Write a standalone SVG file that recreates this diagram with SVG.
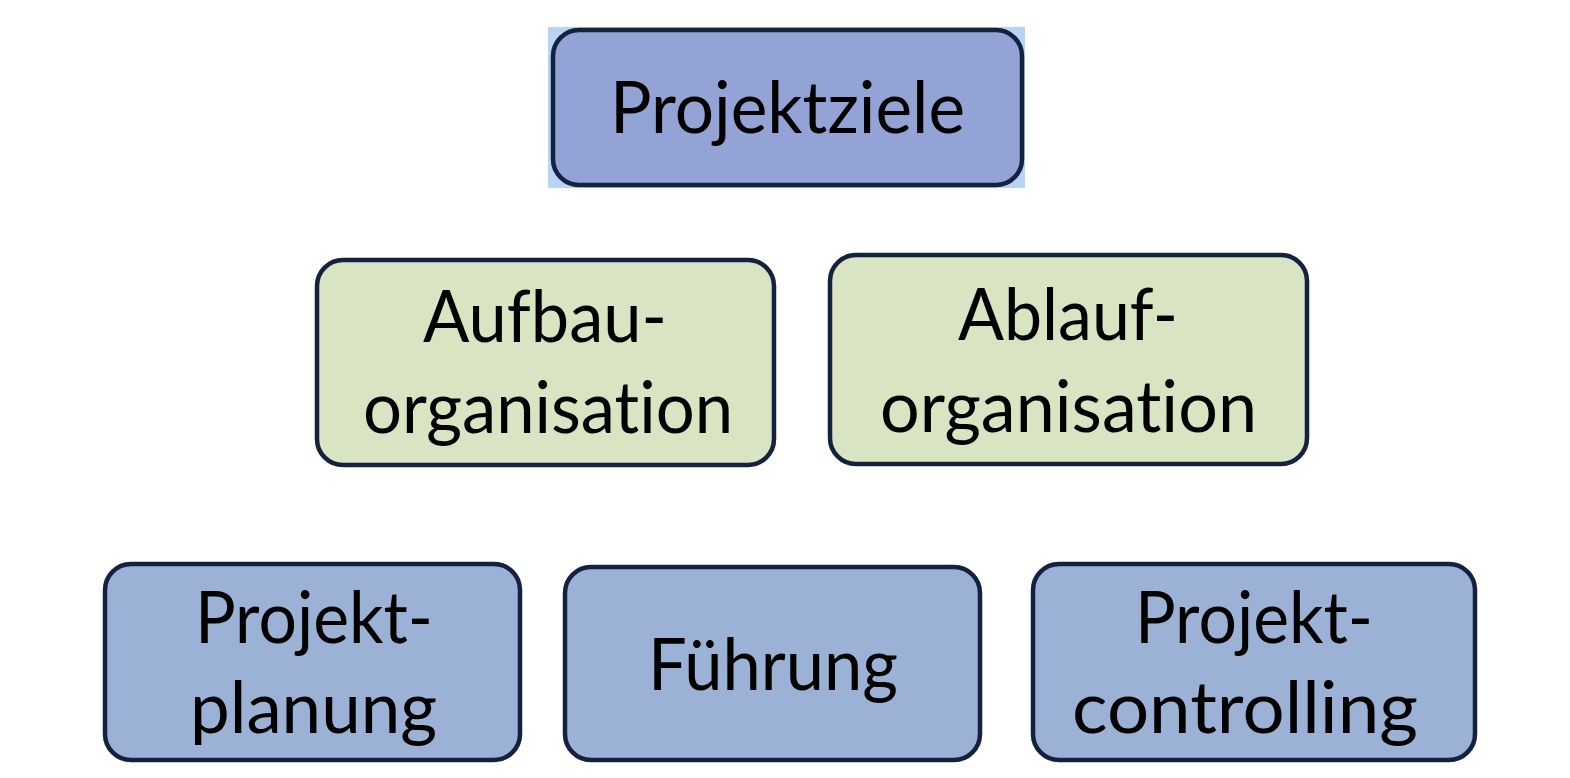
<svg xmlns="http://www.w3.org/2000/svg" width="1570" height="778" viewBox="0 0 1570 778">
<style>
.box{stroke:#15223f;stroke-width:4.5}
.top{fill:#94a3d6}
.green{fill:#d9e4c3}
.blue{fill:#9bb2d6}
text{font-family:Lato,"Open Sans","Noto Sans",sans-serif;font-size:71px;fill:#000;text-anchor:start;font-variant-ligatures:none;font-feature-settings:"liga" 0,"clig" 0,"dlig" 0}
</style>
<rect width="1570" height="778" fill="#ffffff"/>
<g id="connectors"></g>
<g id="projektziele">
<rect x="548" y="27" width="477" height="161" fill="#b7d3f6"/>
<rect class="box top" x="553" y="30" width="469" height="155" rx="26"/>
<text x="610" y="133" textLength="355" lengthAdjust="spacingAndGlyphs">Projektziele</text>
</g>
<g id="aufbauorganisation">
<rect class="box green" x="317" y="260" width="457" height="205" rx="26"/>
<text x="423" y="342" textLength="244" lengthAdjust="spacingAndGlyphs">Aufbau-</text>
<text x="363" y="433" textLength="370" lengthAdjust="spacingAndGlyphs">organisation</text>
</g>
<g id="ablauforganisation">
<rect class="box green" x="830" y="255" width="477" height="209" rx="26"/>
<text x="958" y="340" textLength="220" lengthAdjust="spacingAndGlyphs">Ablauf-</text>
<text x="880" y="432" textLength="377" lengthAdjust="spacingAndGlyphs">organisation</text>
</g>
<g id="projektplanung">
<rect class="box blue" x="105" y="564" width="415" height="196" rx="26"/>
<text x="195" y="643" textLength="238" lengthAdjust="spacingAndGlyphs">Projekt-</text>
<text x="190" y="733" textLength="247" lengthAdjust="spacingAndGlyphs">planung</text>
</g>
<g id="fuehrung">
<rect class="box blue" x="565" y="567" width="415" height="193" rx="26"/>
<text x="648" y="690" textLength="250" lengthAdjust="spacingAndGlyphs">Führung</text>
</g>
<g id="projektcontrolling">
<rect class="box blue" x="1033" y="564" width="442" height="196" rx="26"/>
<text x="1135" y="643" textLength="238" lengthAdjust="spacingAndGlyphs">Projekt-</text>
<text x="1072" y="733" textLength="346" lengthAdjust="spacingAndGlyphs">controlling</text>
</g>
</svg>
